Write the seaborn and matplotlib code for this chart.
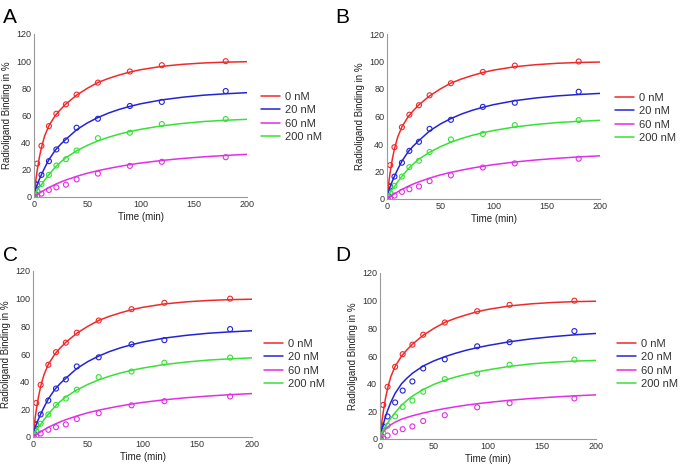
import matplotlib
matplotlib.use("Agg")
import matplotlib.pyplot as plt
import pandas as pd
import seaborn as sns

# ==============================================================================: DATA
conc_labels = ['0 nM', '20 nM', '60 nM', '200 nM']
conc_colors = ['#f02a2a', '#2424d6', '#e22ee6', '#38e038']
panel_letters = ['A', 'B', 'C', 'D']

# measured points (same in all panels)
time_pts = [1, 3, 7, 14, 21, 30, 40, 60, 90, 120, 180]
pts_0nM = [9.9, 24.6, 37.7, 52.2, 61.3, 68.2, 75.4, 84.2, 92.4, 97.0, 100.0]
pts_20nM = [2.5, 9.0, 16.3, 26.4, 35.0, 41.6, 51.0, 57.6, 67.0, 70.0, 78.0]
pts_60nM = [0.0, 0.5, 2.5, 5.2, 7.1, 9.1, 13.0, 17.2, 22.9, 25.9, 29.3]
pts_200nM = [1.7, 4.4, 9.6, 16.3, 23.2, 27.8, 34.2, 43.3, 47.3, 53.7, 57.4]

# fitted curves
fit_t = [0, 1, 2, 3, 5, 7, 10, 14, 20, 25, 30, 40, 50, 60, 70, 80, 90, 100, 120, 140, 160, 180, 200]
fit_0nM = [1, 8, 14, 19.5, 29, 36.5, 45, 52.5, 60, 64.5, 68.5, 75, 80, 84.3, 87.3, 89.8, 92, 93.7,
           96.2, 97.7, 98.7, 99.3, 99.6]
# panels A, B, C
fit_20nM = [2, 4.5, 7, 9, 13, 16.5, 21.5, 27.5, 34.5, 38.8, 42.5, 49.5, 54.5, 58.5, 61.8, 64.5, 66.7,
            68.6, 71.5, 73.5, 75, 76, 76.8]
fit_60nM = [0, 0.6, 1.2, 1.8, 2.8, 3.8, 5.2, 7, 9.3, 11, 12.5, 15.2, 17.5, 19.4, 21, 22.5, 23.8, 25,
            26.9, 28.4, 29.6, 30.6, 31.4]
fit_200nM = [2, 3, 4, 5, 7, 9, 12.5, 16.5, 22, 25.7, 29, 34, 38, 41.3, 44, 46.3, 48.2, 49.8, 52.4,
             54.2, 55.6, 56.5, 57.2]
# panel D
fit_20nM_d = [2, 5, 8, 10.5, 16, 20.5, 26.5, 33, 40, 44, 47.5, 52.8, 56.5, 59.5, 62, 64.2, 66, 67.6,
              70.3, 72.4, 74, 75.3, 76.3]
fit_60nM_d = [0, 2, 3.8, 5, 7, 8.5, 10.3, 12.2, 14.3, 15.6, 16.8, 18.8, 20.5, 22, 23.3, 24.5, 25.5,
              26.4, 28, 29.3, 30.3, 31.2, 31.9]
fit_200nM_d = [2, 3.5, 5, 6.3, 9, 11.5, 15, 19, 24.5, 28, 31, 35.8, 39.5, 42.5, 44.8, 46.8, 48.5, 50,
               52.5, 54.3, 55.5, 56.3, 56.8]


def ft_long(t, series):
    rows = []
    for lab, vals in zip(conc_labels, series):
        for x, y in zip(t, vals):
            rows.append({'t': x, 'y': y, 'conc': lab})
    return pd.DataFrame(rows)


points_df = ft_long(time_pts, [pts_0nM, pts_20nM, pts_60nM, pts_200nM])
fit_abc = ft_long(fit_t, [fit_0nM, fit_20nM, fit_60nM, fit_200nM])
fit_d = ft_long(fit_t, [fit_0nM, fit_20nM_d, fit_60nM_d, fit_200nM_d])

# ==============================================================================: PLOT
sns.set_style("white")
plt.rcParams['font.family'] = ['Liberation Sans', 'DejaVu Sans']

W, H = 682, 474
fig = plt.figure(figsize=(W / 100, H / 100), dpi=100)

# (left, top, right, bottom) in pixels, legend anchor (x, y) in pixels
boxes = [(34, 34, 247, 197), (387, 34, 600, 199), (33, 271, 252, 437), (380, 273, 596, 439)]
leg_pos = [(261, 92), (615, 93), (264, 339), (617, 339)]
letter_pos = [(3, 23), (335, 23), (3, 261), (335, 261)]
palette = dict(zip(conc_labels, conc_colors))

for i, letter in enumerate(panel_letters):
    l, t, r, b = boxes[i]
    ax = fig.add_axes([l / W, 1 - b / H, (r - l) / W, (b - t) / H])
    fits = fit_d if letter == 'D' else fit_abc

    sns.lineplot(data=fits, x='t', y='y', hue='conc', hue_order=conc_labels, palette=palette,
                 linewidth=1.1, ax=ax)
    sns.scatterplot(data=points_df, x='t', y='y', hue='conc', hue_order=conc_labels, palette=palette,
                    s=13, linewidth=0.8, legend=False, ax=ax)
    pts = ax.collections[-1]
    pts.set_edgecolors(pts.get_facecolors())
    pts.set_facecolors('none')

    ax.set_xlim(0, 200)
    ax.set_ylim(0, 120)
    ax.set_xticks([0, 50, 100, 150, 200])
    ax.set_yticks([0, 20, 40, 60, 80, 100, 120])
    ax.set_xlabel('Time (min)', fontsize=7, color='#222222', labelpad=2)
    ax.set_ylabel('Radioligand Binding in %', fontsize=7, color='#222222', labelpad=3)
    ax.tick_params(direction='in', length=3, width=0.6, colors='#888888', labelcolor='#333333',
                   labelsize=6.5, pad=2)
    for side in ['top', 'right']:
        ax.spines[side].set_visible(False)
    for side in ['left', 'bottom']:
        ax.spines[side].set_color('#999999')
        ax.spines[side].set_linewidth(0.8)

    handles, labels = ax.get_legend_handles_labels()
    lx, ly = leg_pos[i]
    ax.legend(handles, labels, loc='upper left', bbox_to_anchor=(lx / W, 1 - ly / H),
              bbox_transform=fig.transFigure, frameon=False, fontsize=8, handlelength=1.7,
              handletextpad=0.45, labelspacing=0.3, borderpad=0, borderaxespad=0,
              labelcolor='#333333')

    px, py = letter_pos[i]
    fig.text(px / W, 1 - py / H, letter, fontsize=15, ha='left', va='baseline', color='black')

fig.savefig('out.png', dpi=100)
